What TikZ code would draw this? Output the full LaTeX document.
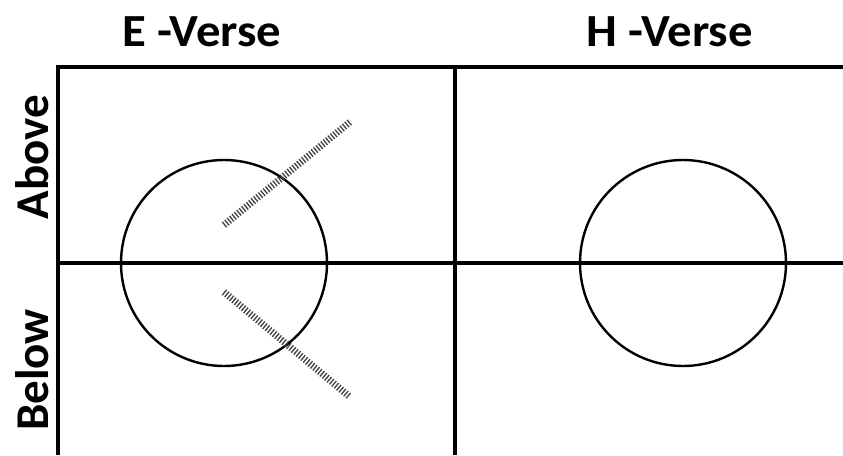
\documentclass[tikz,border=0pt]{standalone}
\usepackage{fontspec}
\setmainfont{Carlito}
\begin{document}
\begin{tikzpicture}[x=1pt,y=-1pt,
  heading/.style={font=\bfseries\fontsize{46}{52}\selectfont, inner sep=0pt, xscale=1.06},
  sidelabel/.style={font=\bfseries\fontsize{47}{52}\selectfont, inner sep=0pt, rotate=90},
  framebold/.style={line width=4.5pt},
  framemid/.style={line width=3.5pt},
  ring/.style={circle, draw, line width=2.4pt, minimum size=206pt, inner sep=0pt},
  hatch/.style={line width=7pt, draw=black!75, dash pattern=on 1.3pt off 1.8pt}]
\useasboundingbox (0,0) rectangle (843,455);
\node[heading] (e) at (202,32) {E -Verse};
\node[heading] (h) at (670,32) {H -Verse};
\node[sidelabel] (above) at (32,157) {Above};
\node[sidelabel] (below) at (32,370) {Below};
\coordinate (tl) at (58,67);
\coordinate (tr) at (843,67);
\coordinate (bl) at (58,455);
\coordinate (tm) at (455,67);
\coordinate (bm) at (455,455);
\coordinate (ml) at (58,263);
\coordinate (mr) at (843,263);
\draw[framebold] ([xshift=-2.25pt]tl) -- (tr);
\draw[framebold] (tl) -- (bl);
\draw[framemid] (tm) -- (bm);
\draw[framemid] (ml) -- (mr);
\node[ring] (c1) at (224,263) {};
\node[ring] (c2) at (683,263) {};
\coordinate (u1) at (224,225);
\coordinate (u2) at (350,122);
\coordinate (d1) at (224,292);
\coordinate (d2) at (350,397);
\draw[hatch] (u1) -- (u2);
\draw[hatch] (d1) -- (d2);
\end{tikzpicture}
\end{document}
